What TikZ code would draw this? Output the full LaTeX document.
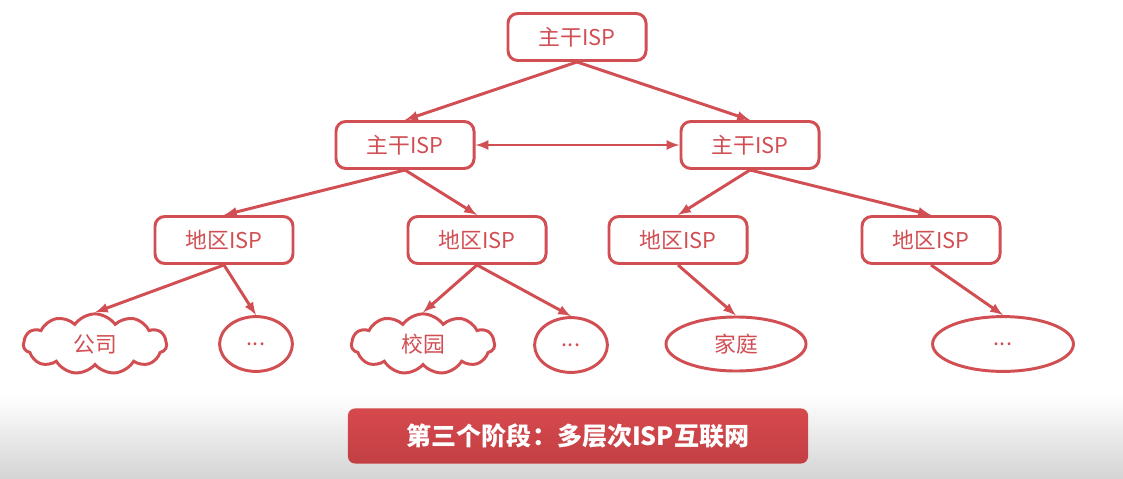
\documentclass[tikz,border=0pt]{standalone}
\usepackage{fontspec}
\setmainfont{Noto Sans CJK SC}
\usetikzlibrary{shapes.geometric,shapes.symbols}
\definecolor{ispred}{HTML}{D14E53}
\definecolor{bannerred}{HTML}{D6494D}
\definecolor{bannerdark}{HTML}{C23F43}
\tikzset{
  ispbox/.style={draw=ispred,line width=2.1pt,rounded corners=7pt,text=ispred,
    minimum width=3.45cm,minimum height=1.175cm,font=\fontsize{15.5}{18}\selectfont},
  netcloud/.style={cloud,cloud puffs=11,cloud puff arc=110,aspect=3.5,draw=ispred,line width=2.1pt,text=ispred,
    inner xsep=0.72cm,inner ysep=0cm,font=\fontsize{15.5}{18}\selectfont},
  netoval/.style={ellipse,draw=ispred,line width=2.1pt,text=ispred,inner sep=0pt,
    font=\fontsize{15.5}{18}\selectfont},
  link/.style={draw=ispred,line width=2.1pt,-latex}
}
\begin{document}
\begin{tikzpicture}[x=0.025cm,y=-0.025cm]
  \useasboundingbox (0,0) rectangle (1123,479);
  \fill[white] (0,0) rectangle (1123,395);
  \fill[top color=white,bottom color=black!17] (0,395) rectangle (1123,479);

  % backbone
  \node[ispbox] (top) at (577,37) {主干ISP};
  \node[ispbox] (bbl) at (405,145) {主干ISP};
  \node[ispbox] (bbr) at (750,145) {主干ISP};

  % regional
  \node[ispbox] (reg1) at (224,240) {地区ISP};
  \node[ispbox] (reg2) at (477,240) {地区ISP};
  \node[ispbox] (reg3) at (678,240) {地区ISP};
  \node[ispbox] (reg4) at (931,240) {地区ISP};

  % access
  \node[netcloud] (corp) at (95,344) {公司};
  \node[netoval,minimum width=1.82cm,minimum height=1.37cm] (etc1) at (256,344) {...};
  \node[netcloud] (camp) at (423,344) {校园};
  \node[netoval,minimum width=1.82cm,minimum height=1.37cm] (etc2) at (571,345) {...};
  \node[netoval,minimum width=3.5cm,minimum height=1.35cm] (home) at (736,344) {家庭};
  \node[netoval,minimum width=3.52cm,minimum height=1.37cm] (etc3) at (1003,344) {...};

  \draw[link] (top.south) -- (bbl.north);
  \draw[link] (top.south) -- (bbr.north);
  \draw[link,latex-latex] (bbl.east) -- (bbr.west);
  \draw[link] (bbl.south) -- (reg1.north);
  \draw[link] (bbl.south) -- (reg2.north);
  \draw[link] (bbr.south) -- (reg3.north);
  \draw[link] (bbr.south) -- (reg4.north);
  \draw[link] (reg1.south) -- (corp.north);
  \draw[link] (reg1.south) -- (etc1.north);
  \draw[link] (reg2.south) -- (camp.north);
  \draw[link] (reg2.south) -- (etc2.north);
  \draw[link] (reg3.south) -- (home.north);
  \draw[link] (reg4.south) -- (etc3.north);

  % caption banner
  \node[rounded corners=5pt,top color=bannerred,bottom color=bannerdark,text=white,
    minimum width=11.5cm,minimum height=1.375cm,font=\bfseries\fontsize{17.8}{20}\selectfont]
    (banner) at (578,436) {第三个阶段：多层次ISP互联网};
\end{tikzpicture}
\end{document}
